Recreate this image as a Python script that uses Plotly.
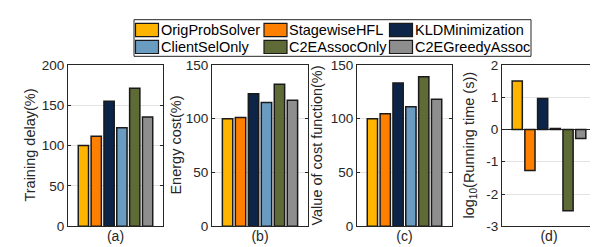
import plotly.graph_objects as go

# ---------------- data ----------------
methods = ["OrigProbSolver", "StagewiseHFL", "KLDMinimization",
           "ClientSelOnly", "C2EAssocOnly", "C2EGreedyAssoc"]
colors = ["#FFB500", "#FF8000", "#0B2448", "#6A9CC2", "#5E6B36", "#8E8E8E"]
positions = [1, 2, 3, 4, 5, 6]

training_delay = [100, 111.5, 155, 122, 171, 135.5]
energy_cost = [100, 101, 123, 115, 132, 117]
cost_value = [100, 104.5, 133, 111, 139, 118]
log_running_time = [1.5, -1.27, 0.96, 0.03, -2.52, -0.28]

panel_labels = ["(a)", "(b)", "(c)", "(d)"]
y_titles = ["Training delay(%)", "Energy cost(%)", "Value of cost function(%)",
            "log<sub>10</sub>(Running time (s))"]
y_ranges = [[0, 200], [0, 150], [0, 150], [-3, 2]]
y_ticks = [[0, 50, 100, 150, 200], [0, 50, 100, 150], [0, 50, 100, 150],
           [-3, -2, -1, 0, 1, 2]]
y_ticktext = [["0", "50", "100", "150", "200"], ["0", "50", "100", "150"],
              ["0", "50", "100", "150"], ["-3", "-2", "-1", "0", "1", "2"]]
series = [training_delay, energy_cost, cost_value, log_running_time]

# ---------------- layout geometry (pixels) ----------------
W, H = 598, 247
panel_x = [(60, 155), (204, 300), (349, 444), (494, 588)]
panel_y = (53, 225)
ytitle_x = [22, 168, 309, 462]

def px(x):
    return x / W

def py(y):
    return 1 - y / H

FONT = "Liberation Sans, Arial, Helvetica, sans-serif"
INK = "#262626"

fig = go.Figure()
layout = dict(
    width=W, height=H, autosize=False,
    margin=dict(l=0, r=0, t=0, b=0),
    paper_bgcolor="white", plot_bgcolor="white",
    showlegend=False,
    font=dict(family=FONT, size=13, color=INK),
    bargap=0.2,
)

annotations = []
for i in range(4):
    sfx = "" if i == 0 else str(i + 1)
    fig.add_trace(go.Bar(
        x=positions, y=series[i], width=0.8,
        marker=dict(color=colors, line=dict(color="#1a1a1a", width=1.5)),
        xaxis="x" + sfx, yaxis="y" + sfx,
        hoverinfo="skip",
    ))
    layout["xaxis" + sfx] = dict(
        domain=[px(panel_x[i][0]), px(panel_x[i][1])],
        anchor="y" + sfx, range=[-0.2, 7.2],
        showline=True, linecolor=INK, linewidth=1, mirror=True,
        showticklabels=False, ticks="", showgrid=False, zeroline=False,
        title=dict(text=panel_labels[i], standoff=4,
                   font=dict(family=FONT, size=14, color=INK)),
    )
    layout["yaxis" + sfx] = dict(
        domain=[py(panel_y[1]), py(panel_y[0])],
        anchor="x" + sfx, range=y_ranges[i],
        tickvals=y_ticks[i], ticktext=y_ticktext[i],
        showline=True, linecolor=INK, linewidth=1, mirror="ticks",
        ticks="inside", ticklen=3, tickcolor=INK,
        showgrid=True, gridcolor="#e3e3e3", gridwidth=1,
        zeroline=(i == 3), zerolinecolor=INK, zerolinewidth=1,
        tickfont=dict(family=FONT, size=13.5, color=INK),
    )
    annotations.append(dict(xref="paper", yref="paper",
                            x=px(ytitle_x[i]), y=py((panel_y[0] + panel_y[1]) / 2),
                            xanchor="center", yanchor="middle", textangle=-90,
                            text=y_titles[i], showarrow=False,
                            font=dict(family=FONT, size=14.5, color=INK)))

# ---------------- legend (drawn manually) ----------------
shapes = []
shapes.append(dict(type="rect", xref="paper", yref="paper",
                   x0=px(126), x1=px(523), y0=py(44), y1=py(5),
                   line=dict(color=INK, width=1), fillcolor="white", layer="above"))
col_left = [127.5, 256, 381.5]
row_y = [(9, 23), (27, 41)]
for k, name in enumerate(methods):
    r, c = divmod(k, 3)
    x0 = col_left[c]
    y0, y1 = row_y[r]
    shapes.append(dict(type="rect", xref="paper", yref="paper",
                       x0=px(x0), x1=px(x0 + 23), y0=py(y1), y1=py(y0),
                       line=dict(color="#1a1a1a", width=1.2),
                       fillcolor=colors[k], layer="above"))
    annotations.append(dict(xref="paper", yref="paper",
                            x=px(x0 + 23), y=py((y0 + y1) / 2),
                            xanchor="left", yanchor="middle",
                            text=name, showarrow=False,
                            font=dict(family=FONT, size=14.5, color="black")))

layout["shapes"] = shapes
layout["annotations"] = annotations
fig.update_layout(**layout)

fig.write_html("out.html")
